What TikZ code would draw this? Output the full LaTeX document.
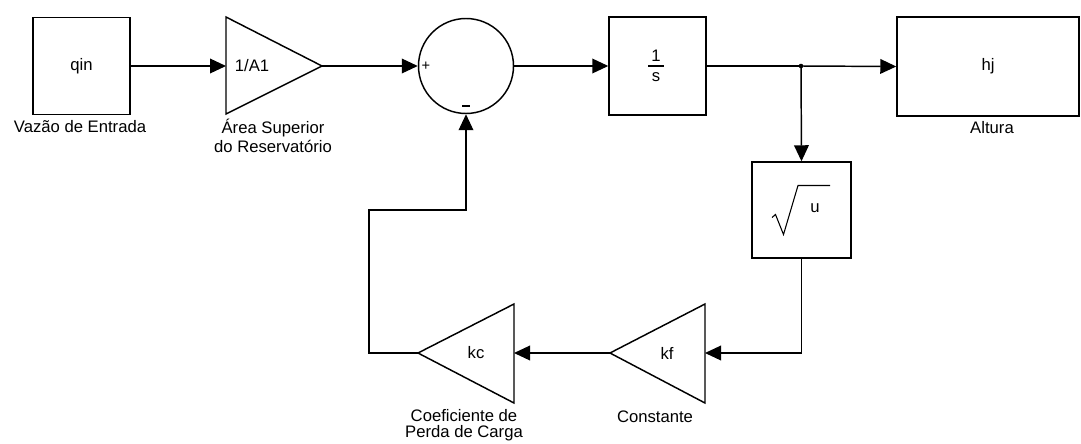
\documentclass[tikz,border=0pt]{standalone}
\usepackage{fontspec}
\setmainfont{Liberation Sans}
\usetikzlibrary{arrows.meta}
\begin{document}
\begin{tikzpicture}[x=0.75pt,y=-0.75pt,
  every node/.style={font=\fontsize{12.5}{15}\selectfont, inner sep=0pt},
  blk/.style={draw, line width=1.1pt, fill=white},
  wire/.style={line width=1.1pt},
  arr/.style={line width=1.1pt, -{Triangle[length=12pt,width=11pt]}},
  tri/.style={line width=1.1pt, line join=miter},
  lbl/.style={align=center, font=\fontsize{12.5}{16}\selectfont}]
\useasboundingbox (0,0) rectangle (1081,443);

% blocks
\node[blk, minimum width=72.75pt, minimum height=72.75pt] (qin) at (81.5,66) {qin};
\node[lbl] (qinl) at (80,127) {Vazão de Entrada};

\coordinate (g1base) at (226,66);
\coordinate (g1tip) at (322,66);
\draw[tri] (226,17) -- (g1tip) -- (226,114) -- cycle;
\node (g1t) at (252,66) {1/A1};
\node[lbl] (g1l1) at (273,128) {Área Superior};
\node[lbl] (g1l2) at (273,146) {do Reservatório};

\node[circle, draw, line width=1.1pt, minimum size=71.25pt] (sum) at (466,66) {};
\node[font=\fontsize{11}{12}\selectfont] (plus) at (426,66.5) {+};
\node[minimum width=6pt, minimum height=1.3pt, fill=black] (minus) at (466,106) {};

\node[blk, minimum width=72.75pt, minimum height=73.5pt] (int) at (657.5,66) {};
\node (one) at (656,56) {1};
\draw[line width=0.8pt] (648,66) -- (664,66);
\node (ess) at (656,77) {s};

\coordinate (jn) at (801,66);
\fill (jn) circle (2.3);

\node[blk, minimum width=136.5pt, minimum height=74.25pt] (hj) at (988,66.5) {hj};
\node (hjl) at (992,128) {Altura};

\node[blk, minimum width=74.25pt, minimum height=72pt] (sq) at (801.5,210) {};
\draw[line width=0.8pt, line join=miter] (772,217.5) -- (775.5,214.5) -- (783.5,234.5) -- (798,185.5) -- (830,185.5);
\node (u) at (815,208) {u};

\coordinate (kfbase) at (705,353);
\coordinate (kftip) at (610,353);
\draw[tri] (705,304) -- (kftip) -- (705,403) -- cycle;
\node (kft) at (667,353) {kf};
\node[lbl] (kfl) at (655,417) {Constante};

\coordinate (kcbase) at (514,353);
\coordinate (kctip) at (418,353);
\draw[tri] (514,304) -- (kctip) -- (514,403) -- cycle;
\node (kct) at (476,353) {kc};
\node[lbl] (kcl1) at (464,416) {Coeficiente de};
\node[lbl] (kcl2) at (464,433) {Perda de Carga};

\coordinate (fb) at (369,210);

% connectors
\draw[arr] (qin.east) -- (g1base);
\draw[arr] (g1tip) -- (sum.west);
\draw[arr] (sum.east) -- (int.west);
\draw[wire] (int.east) -- (jn);
\draw[arr] (jn) -- (hj.west);
\draw[arr] (jn) -- (sq.north);
\draw[arr] (sq.south) |- (kfbase);
\draw[arr] (kftip) -- (kcbase);
\draw[arr] (kctip) -| (fb) -| (sum.south);
\end{tikzpicture}
\end{document}
